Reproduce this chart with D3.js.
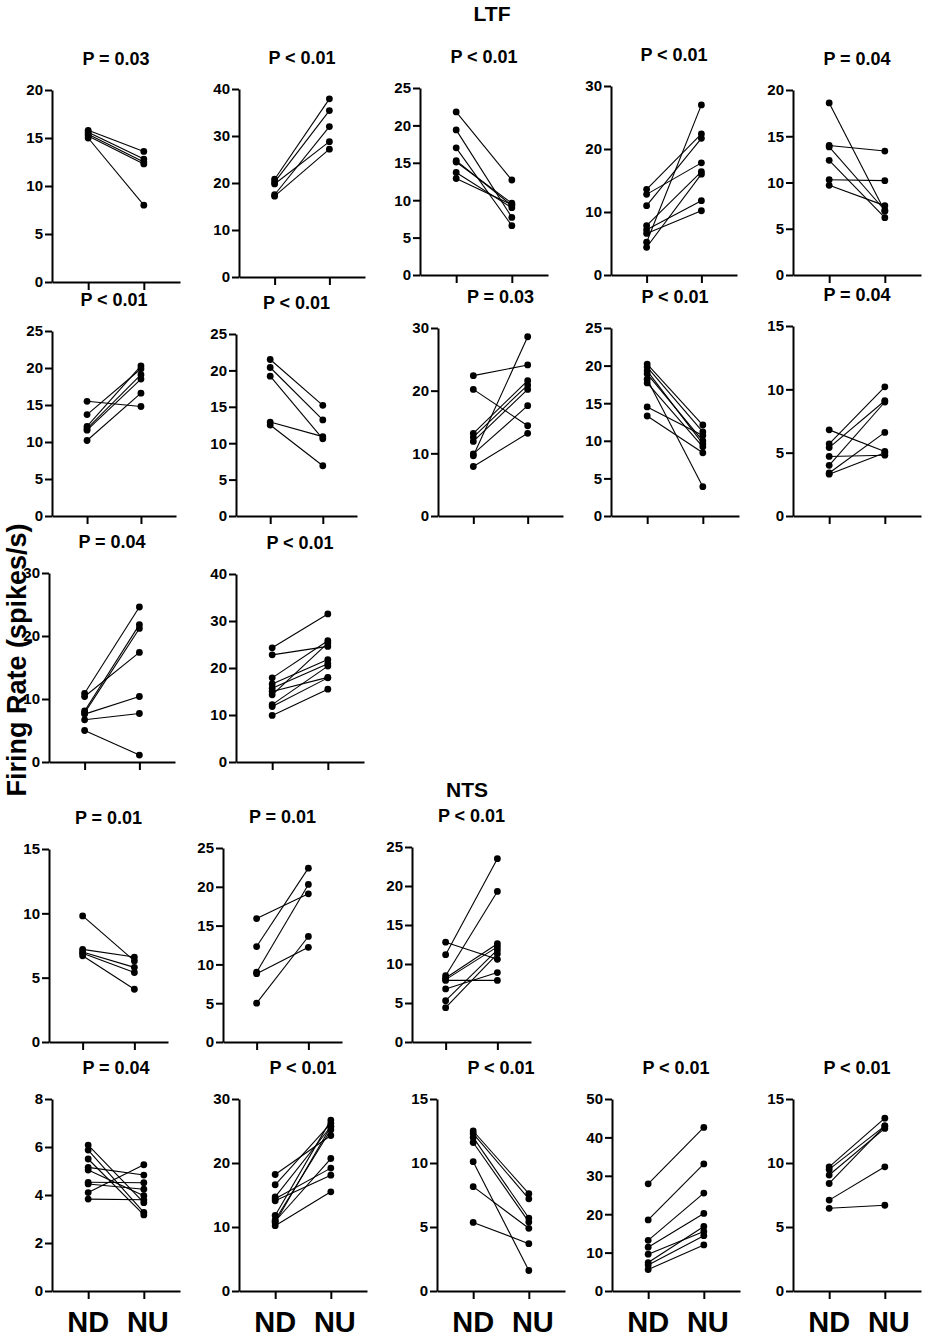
<!DOCTYPE html>
<html>
<head>
<meta charset="utf-8">
<script src="https://cdn.jsdelivr.net/npm/d3@7"></script>
<style>
  body { margin: 0; background: #fff; }
  svg text { font-family: "Liberation Sans", Arial, sans-serif; font-weight: bold; fill: #000; }
</style>
</head>
<body>
<svg id="chart" width="926" height="1339"></svg>
<script>
// paired firing rates, ND -> NU, one array per panel
const groups = ["ND", "NU"];

const panelTitles = [
  "P = 0.03", "P < 0.01", "P < 0.01", "P < 0.01", "P = 0.04",
  "P < 0.01", "P < 0.01", "P = 0.03", "P < 0.01", "P = 0.04",
  "P = 0.04", "P < 0.01",
  "P = 0.01", "P = 0.01", "P < 0.01",
  "P = 0.04", "P < 0.01", "P < 0.01", "P < 0.01", "P < 0.01"
];

const yMaxes     = [20, 40, 25, 30, 20,  25, 25, 30, 25, 15,  30, 40,  15, 25, 25,  8, 30, 15, 50, 15];
const yTickSteps = [ 5, 10,  5, 10,  5,   5,  5, 10,  5,  5,  10, 10,   5,  5,  5,  2, 10,  5, 10,  5];

const ndRates = [
  [15.8, 15.6, 15.4, 15.2, 15.0],
  [20.8, 20.2, 17.5, 19.8, 17.2],
  [21.8, 19.4, 17.0, 15.3, 15.1, 13.7, 12.9],
  [13.6, 12.8, 11.0, 7.85, 7.2, 6.6, 5.2, 4.4],
  [18.6, 14.0, 13.85, 12.4, 10.3, 9.7],

  [15.5, 13.7, 12.1, 11.8, 11.6, 10.2],
  [21.5, 20.4, 19.2, 12.9, 12.5],
  [22.4, 20.2, 13.2, 12.6, 11.9, 9.9, 9.6, 7.9],
  [20.2, 19.8, 19.3, 18.9, 18.2, 17.7, 14.5, 13.3],
  [6.8, 5.7, 5.4, 4.7, 4.0, 3.4, 3.3],

  [10.9, 8.1, 7.8, 10.4, 7.6, 6.7, 5.0],
  [24.3, 22.8, 17.9, 16.6, 15.7, 15.0, 14.3, 12.2, 11.8, 9.9],

  [9.8, 7.2, 7.0, 6.9, 6.7],
  [15.9, 12.3, 9.0, 8.8, 5.0],
  [12.8, 11.2, 8.5, 8.2, 8.0, 7.9, 6.8, 5.3, 4.4],

  [6.08, 5.87, 5.5, 5.15, 5.04, 4.53, 4.46, 4.1, 3.83],
  [18.2, 16.6, 14.7, 14.4, 14.1, 11.8, 11.1, 10.9, 10.7, 10.2],
  [12.5, 12.3, 12.0, 11.6, 10.1, 8.15, 5.36],
  [27.9, 18.5, 13.2, 11.4, 9.6, 7.4, 6.8, 5.6],
  [9.7, 9.5, 9.06, 8.4, 7.1, 6.46]
];

const nuRates = [
  [13.6, 12.8, 12.5, 12.3, 8.0],
  [37.9, 35.4, 32.0, 28.8, 27.2],
  [12.7, 7.7, 6.6, 9.3, 9.6, 9.0, 9.4],
  [22.4, 17.8, 21.7, 16.4, 11.8, 10.2, 27.0, 16.0],
  [6.9, 13.4, 7.0, 6.2, 10.2, 7.5],

  [14.8, 19.9, 20.3, 19.1, 18.5, 16.6],
  [15.2, 13.2, 10.6, 10.9, 6.9],
  [24.1, 14.4, 21.6, 20.9, 20.2, 17.6, 28.6, 13.2],
  [12.1, 11.2, 9.6, 10.0, 3.9, 9.2, 10.7, 8.4],
  [5.1, 10.2, 9.1, 4.8, 9.0, 6.6, 5.0],

  [24.6, 21.8, 21.2, 17.4, 10.4, 7.7, 1.1],
  [31.5, 24.6, 25.8, 21.8, 20.9, 18.0, 25.3, 20.4, 17.9, 15.5],

  [6.3, 6.6, 5.8, 5.4, 4.1],
  [19.1, 22.4, 20.3, 12.2, 13.6],
  [10.6, 23.5, 19.3, 12.6, 12.2, 7.9, 8.9, 11.8, 11.3],

  [3.68, 3.28, 3.17, 4.83, 3.97, 4.51, 4.24, 5.26, 3.8],
  [24.3, 26.2, 25.7, 19.2, 18.1, 26.7, 25.2, 20.7, 25.7, 15.5],
  [7.6, 7.2, 5.7, 5.4, 1.6, 4.9, 3.7],
  [42.6, 33.1, 25.5, 20.2, 15.5, 16.8, 14.4, 12.0],
  [13.5, 12.9, 12.7, 12.9, 9.7, 6.7]
];

// panel frames: y-axis x, plot top, plot bottom, x-axis length
const panelLeft   = [52, 239, 420, 611, 793,  52, 236, 438, 611, 793,  49, 236,  49, 223, 412,  52, 239, 437, 612, 793];
const panelTop    = [90, 89, 88, 86, 90,  331, 334, 328, 328, 326,  573, 574,  849, 848, 847,  1099, 1099, 1099, 1099, 1099];
const panelBottom = [282, 277, 275, 275, 275,  516, 516, 516, 516, 516,  762, 762,  1042, 1042, 1042,  1291, 1291, 1291, 1291, 1291];
const panelWidth  = [128, 126, 128, 126, 128,  124, 121, 125, 128, 128,  126, 128,  119, 119, 119,  128, 128, 128, 128, 128];
const bottomRow = [15, 16, 17, 18, 19];

const svg = d3.select("#chart");

panelTitles.forEach((title, i) => {
  const g = svg.append("g").attr("transform", `translate(${panelLeft[i]},0)`);
  const w = panelWidth[i];

  const x = d3.scalePoint().domain(groups).range([0, w]).padding(0.65);
  const y = d3.scaleLinear().domain([0, yMaxes[i]]).range([panelBottom[i], panelTop[i]]);

  const yAxis = d3.axisLeft(y)
    .tickValues(d3.range(0, yMaxes[i] + 0.001, yTickSteps[i]))
    .tickSize(7).tickSizeOuter(0).tickPadding(2);
  const yg = g.append("g").call(yAxis);
  yg.attr("font-size", null).attr("font-family", null);
  yg.selectAll("text").style("font-size", "15px");

  const xAxis = d3.axisBottom(x).tickSize(8).tickSizeOuter(0).tickFormat("");
  g.append("g").attr("transform", `translate(0,${panelBottom[i]})`).call(xAxis);

  g.selectAll(".domain, .tick line").attr("stroke", "#000").attr("stroke-width", 2);

  g.append("text")
    .attr("x", w / 2).attr("y", panelTop[i] - 25)
    .attr("text-anchor", "middle").style("font-size", "18px")
    .text(title);

  const pairs = ndRates[i].map((v, k) => [v, nuRates[i][k]]);

  g.selectAll("line.pair").data(pairs).join("line")
    .attr("class", "pair")
    .attr("x1", x("ND")).attr("x2", x("NU"))
    .attr("y1", d => y(d[0])).attr("y2", d => y(d[1]))
    .attr("stroke", "#000").attr("stroke-width", 1.1);

  g.selectAll("circle.nd").data(ndRates[i]).join("circle")
    .attr("class", "nd").attr("cx", x("ND")).attr("cy", d => y(d)).attr("r", 3.4).attr("fill", "#000");
  g.selectAll("circle.nu").data(nuRates[i]).join("circle")
    .attr("class", "nu").attr("cx", x("NU")).attr("cy", d => y(d)).attr("r", 3.4).attr("fill", "#000");

  if (bottomRow.includes(i)) {
    g.selectAll("text.grp").data(groups).join("text")
      .attr("class", "grp")
      .attr("x", d => x(d) + (d === "NU" ? 4 : 0)).attr("y", 1332)
      .attr("text-anchor", "middle").style("font-size", "29px")
      .text(d => d);
  }
});

// section headers and shared axis title
svg.append("text").attr("x", 492).attr("y", 21).attr("text-anchor", "middle").style("font-size", "21px").text("LTF");
svg.append("text").attr("x", 467).attr("y", 797).attr("text-anchor", "middle").style("font-size", "21px").text("NTS");
svg.append("text")
  .attr("transform", "translate(26,660) rotate(-90)")
  .attr("text-anchor", "middle").style("font-size", "27px")
  .text("Firing Rate (spikes/s)");
</script>
</body>
</html>
